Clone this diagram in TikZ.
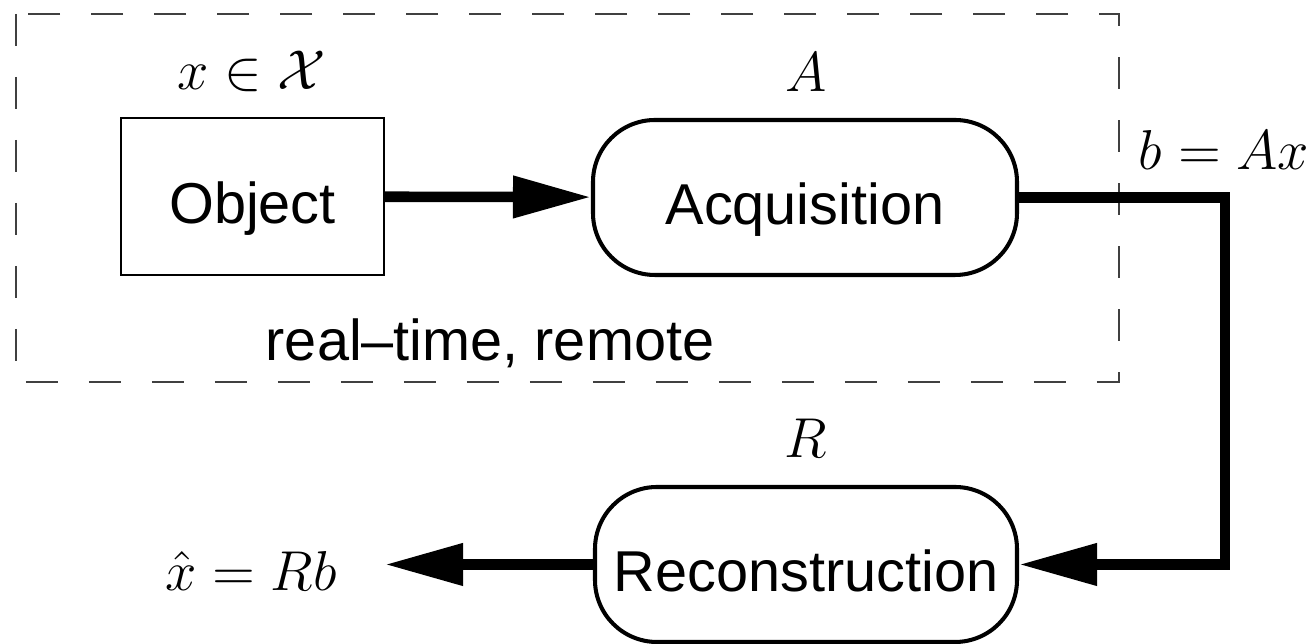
\RequirePackage{fix-cm}
\documentclass[tikz,border=0pt]{standalone}
\usepackage{fontspec}
\setmainfont{Liberation Sans}
\usetikzlibrary{arrows.meta}

\tikzset{
    txt/.style={font=\fontsize{16.4}{19}\selectfont},
    boxtxt/.style={txt,text height=5.5mm,text depth=0pt},
    blk/.style={draw,line width=1.15pt,rounded corners=6.2mm,minimum width=4.22cm,minimum height=1.55cm,boxtxt},
    flow/.style={line width=3pt,-{Triangle[length=7.8mm,width=4mm]}},
    lbl/.style={font=\fontsize{16}{18}\selectfont,anchor=base}
}

\begin{document}
\begin{tikzpicture}
    \useasboundingbox (0,0) rectangle (13.12,6.44);
    \draw[line width=0.4pt,black!75,dash pattern=on 3.2mm off 3.1mm] (0.16,6.30) rectangle (11.19,2.62);

    \node[draw,line width=0.4pt,minimum width=2.63cm,minimum height=1.57cm,boxtxt] (obj) at (2.525,4.475) {Object};
    \node[blk,minimum width=4.24cm] (acq) at (8.05,4.465) {Acquisition};
    \node[blk] (rec) at (8.06,0.795) {Reconstruction};

    \node[lbl] (xin) at (2.515,5.54) {$x\in\mathcal{X}$};
    \node[lbl] (aop) at (8.06,5.52) {$A$};
    \node[lbl] (bax) at (12.24,4.74) {$b=Ax$};
    \node[lbl] (rop) at (8.06,1.86) {$R$};
    \node[lbl] (xhat) at (2.51,0.53) {$\hat{x}=Rb$};
    \node[txt] (rt) at (4.9,3.01) {real--time, remote};

    \coordinate (turn) at (12.25,4.465);
    \coordinate (out) at (3.85,0.795);

    \draw[flow] (obj) -- (acq);
    \draw[flow,line join=miter] (acq.east) -- (turn) |- (rec.east);
    \draw[flow] (rec) -- (out);
\end{tikzpicture}
\end{document}
